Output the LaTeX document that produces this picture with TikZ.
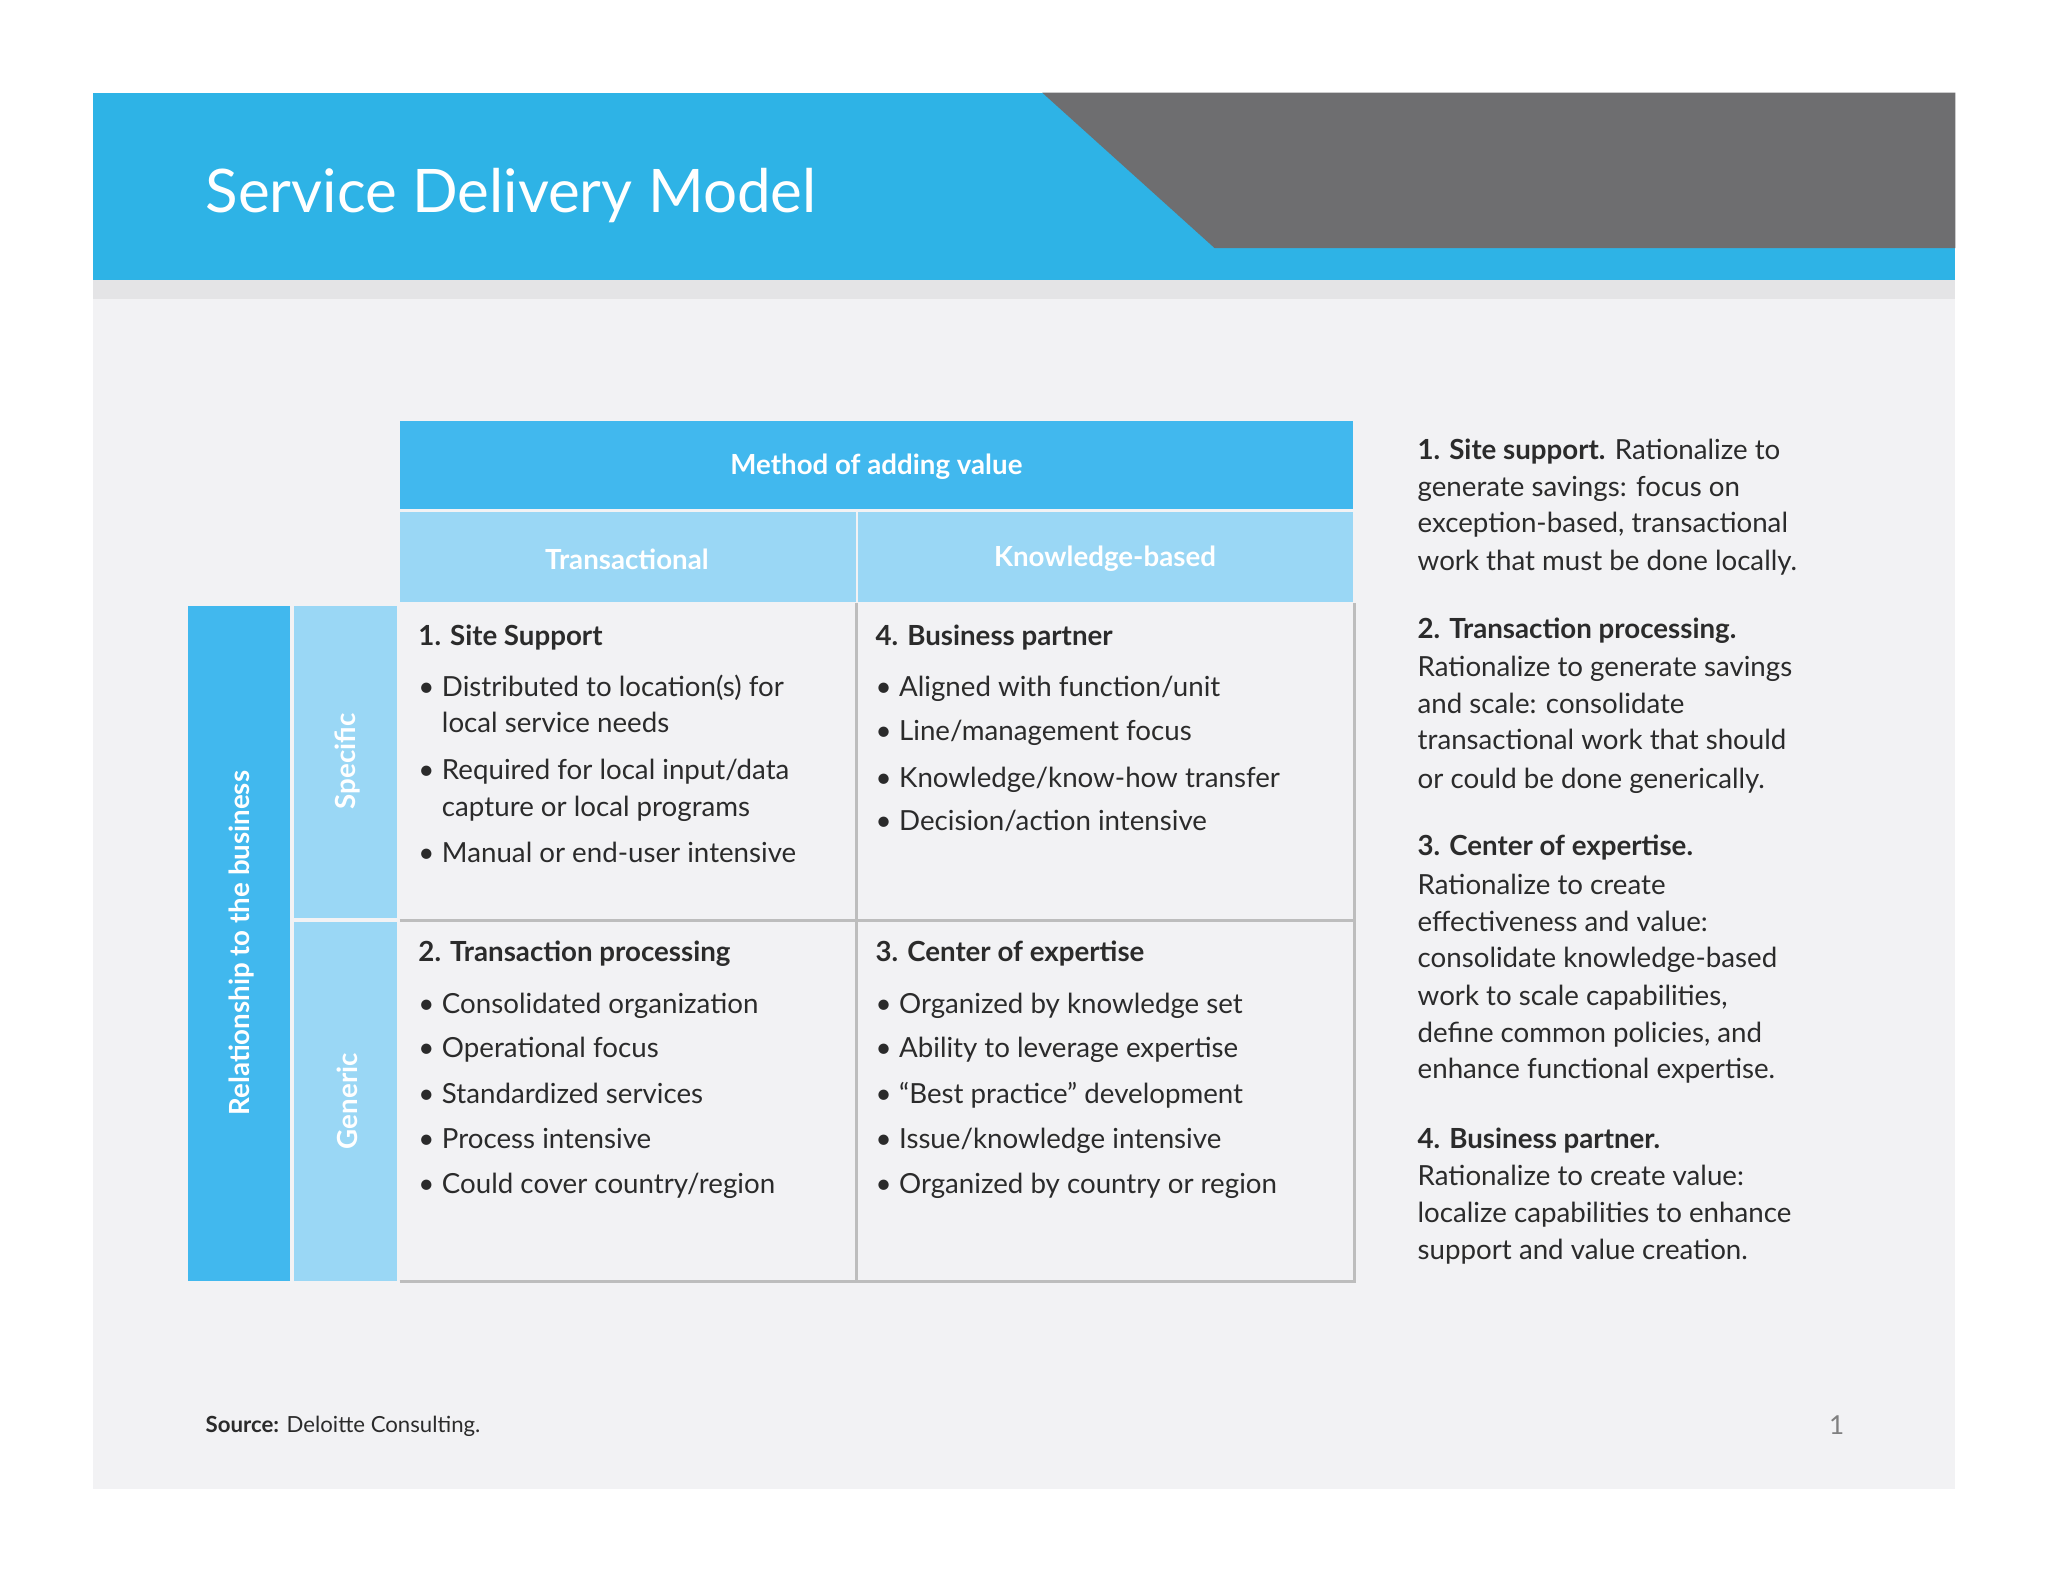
\documentclass[tikz,border=0pt]{standalone}
\usepackage{fontspec}
\setmainfont{Lato}
\definecolor{banner}{HTML}{2EB3E6}
\definecolor{hdr}{HTML}{41B8EE}
\definecolor{lite}{HTML}{9AD7F5}
\definecolor{panel}{HTML}{F2F2F4}
\definecolor{stripe}{HTML}{E4E4E6}
\definecolor{darkg}{HTML}{6E6E70}
\definecolor{gridc}{HTML}{BDBDBD}
\definecolor{txt}{HTML}{2B2B2B}
\tikzset{
 tl/.style={anchor=base west,inner sep=0pt,text=txt,font=\fontsize{10.6}{14}\selectfont},
 tb/.style={tl,font=\fontsize{10.6}{14}\selectfont\bfseries},
 wh/.style={text=white,font=\fontsize{10.6}{14}\selectfont\bfseries,inner sep=0pt},
}
\newcommand{\bl}[4]{\node[tl] (#1b) at (320,#3+8) {\textbullet}; \node[tl] (#1) at (338,#3+8) {#4};}
\newcommand{\br}[4]{\node[tl] (#1b) at (670,#3+8) {\textbullet}; \node[tl] (#1) at (688,#3+8) {#4};}
\newcommand{\rl}[3]{\node[tl] (#1) at (1085,#2+8) {#3};}
\begin{document}
\begin{tikzpicture}[x=0.5pt,y=-0.5pt]
\useasboundingbox (0,0) rectangle (1568,1211);
\fill[white] (0,0) rectangle (1568,1211);
\fill[panel] (71,214) rectangle (1497,1140);
\fill[banner] (71,71) rectangle (1497,214);
\fill[stripe] (71,214) rectangle (1497,229);
\fill[darkg] (798,71) -- (1497,71) -- (1497,190) -- (930,190) -- cycle;
\node[anchor=base west,inner sep=0pt,text=white,font=\fontsize{23}{28}\selectfont] (title) at (157,163) {Service Delivery Model};
% headers
\fill[hdr] (306,322) rectangle (1036,390);
\node[wh] (method) at (671,357) {Method of adding value};
\fill[lite] (306,392) rectangle (655,461);
\fill[lite] (657,392) rectangle (1036,461);
\node[wh] (trans) at (480,428) {Transactional};
\node[wh] (know) at (846,428) {Knowledge-based};
\fill[hdr] (144,464) rectangle (222,981);
\node[wh,rotate=90] (rel) at (185,722) {Relationship to the business};
\fill[lite] (225,464) rectangle (304,703);
\fill[lite] (225,706) rectangle (304,981);
\node[wh,rotate=90] (spec) at (266,583) {Specific};
\node[wh,rotate=90] (gen) at (266,843) {Generic};
% grid
\draw[gridc,line width=1.2pt] (306,981) -- (1037,981) -- (1037,462);
\draw[gridc,line width=1.2pt] (656,462) -- (656,981);
\draw[gridc,line width=1.2pt] (306,705) -- (1037,705);
% cell 1
\node[tb] (c1) at (320,494) {1. Site Support};
\bl{a1}{}{525}{Distributed to location(s) for}
\node[tl] (a1x) at (338,561) {local service needs};
\bl{a2}{}{589}{Required for local input/data}
\node[tl] (a2x) at (338,625) {capture or local programs};
\bl{a3}{}{652}{Manual or end-user intensive}
% cell 4
\node[tb] (c4) at (670,494) {4. Business partner};
\br{d1}{}{525}{Aligned with function/unit}
\br{d2}{}{559}{Line/management focus}
\br{d3}{}{595}{Knowledge/know-how transfer}
\br{d4}{}{628}{Decision/action intensive}
% cell 2
\node[tb] (c2) at (320,736) {2. Transaction processing};
\bl{b1}{}{768}{Consolidated organization}
\bl{b2}{}{802}{Operational focus}
\bl{b3}{}{837}{Standardized services}
\bl{b4}{}{871}{Process intensive}
\bl{b5}{}{906}{Could cover country/region}
% cell 3
\node[tb] (c3) at (670,736) {3. Center of expertise};
\br{e1}{}{768}{Organized by knowledge set}
\br{e2}{}{802}{Ability to leverage expertise}
\br{e3}{}{837}{“Best practice” development}
\br{e4}{}{871}{Issue/knowledge intensive}
\br{e5}{}{906}{Organized by country or region}
% right column
\rl{r1}{344}{\textbf{1. Site support.} Rationalize to}
\rl{r2}{372}{generate savings: focus on}
\rl{r3}{400}{exception-based, transactional}
\rl{r4}{429}{work that must be done locally.}
\rl{r5}{481}{\textbf{2. Transaction processing.}}
\rl{r6}{510}{Rationalize to generate savings}
\rl{r7}{538}{and scale: consolidate}
\rl{r8}{566}{transactional work that should}
\rl{r9}{596}{or could be done generically.}
\rl{r10}{647}{\textbf{3. Center of expertise.}}
\rl{r11}{677}{Rationalize to create}
\rl{r12}{705}{effectiveness and value:}
\rl{r13}{733}{consolidate knowledge-based}
\rl{r14}{762}{work to scale capabilities,}
\rl{r15}{790}{define common policies, and}
\rl{r16}{818}{enhance functional expertise.}
\rl{r17}{871}{\textbf{4. Business partner.}}
\rl{r18}{900}{Rationalize to create value:}
\rl{r19}{928}{localize capabilities to enhance}
\rl{r20}{956}{support and value creation.}
% footer
\node[anchor=base west,inner sep=0pt,text=txt,font=\fontsize{8.5}{10}\selectfont] (src) at (157,1097) {\textbf{Source:} Deloitte Consulting.};
\node[anchor=base west,inner sep=0pt,text=gray,font=\fontsize{10}{12}\selectfont] (pg) at (1400,1098) {1};
\end{tikzpicture}
\end{document}
